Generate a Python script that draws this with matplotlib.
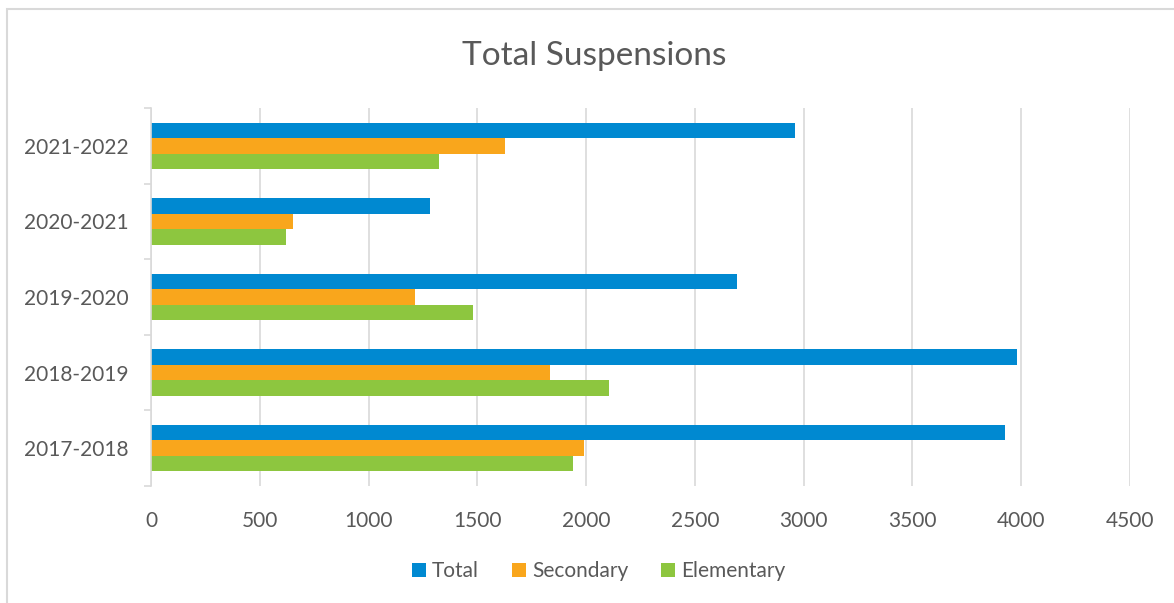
import numpy as np
import matplotlib
matplotlib.use('Agg')
import matplotlib.pyplot as plt
from matplotlib.patches import Rectangle
from matplotlib.ticker import FixedLocator

plt.rcParams['font.family'] = ['Lato', 'DejaVu Sans']

years = ['2017-2018', '2018-2019', '2019-2020', '2020-2021', '2021-2022']
total = [3925, 3983, 2693, 1284, 2961]
secondary = [1989, 1834, 1213, 654, 1628]
elementary = [1938, 2105, 1479, 621, 1325]

blue = '#0089D1'
orange = '#F9A61C'
green = '#8DC63F'
txt = '#595959'
grid = '#D9D9D9'

fig = plt.figure(figsize=(11.74, 6.03), dpi=100)
ax = fig.add_axes([0.1286, 0.194, 0.8339, 0.6269])

y = np.arange(len(years))
h = 0.205
ax.barh(y + h, total, height=h, color=blue, label='Total', zorder=3)
ax.barh(y, secondary, height=h, color=orange, label='Secondary', zorder=3)
ax.barh(y - h, elementary, height=h, color=green, label='Elementary', zorder=3)

ax.set_xlim(0, 4500)
ax.set_ylim(-0.5, len(years) - 0.5)
ax.set_xticks(np.arange(0, 4501, 500))
ax.set_yticks(y)
ax.set_yticklabels(years)
ax.yaxis.set_minor_locator(FixedLocator(np.arange(-0.5, len(years), 1)))

ax.tick_params(axis='x', length=0, pad=18, labelsize=15, labelcolor=txt)
ax.tick_params(axis='y', which='major', length=0, pad=16, labelsize=15, labelcolor=txt)
ax.tick_params(axis='y', which='minor', length=5, width=1.2, color=grid)

ax.grid(axis='x', color=grid, linewidth=1.2, zorder=0)
for s in ['top', 'right', 'bottom']:
    ax.spines[s].set_visible(False)
ax.spines['left'].set_color(grid)
ax.spines['left'].set_linewidth(1.2)
ax.spines['left'].set_zorder(4)

fig.text(0.506, 0.907, 'Total Suspensions', ha='center', va='center',
         fontsize=24, color=txt)

fig.legend(loc='center', bbox_to_anchor=(0.51, 0.053), ncol=3, frameon=False,
           fontsize=15, handlelength=0.65, handleheight=0.65, handletextpad=0.3,
           columnspacing=1.6, labelcolor=txt)

# outer chart border
fig.add_artist(Rectangle((7 / 1174, -0.1), 1.2, 1 - 9 / 603 + 0.1,
                         transform=fig.transFigure, fill=False,
                         edgecolor='#D9D9D9', linewidth=1.5))

fig.savefig('out.png', dpi=100)
